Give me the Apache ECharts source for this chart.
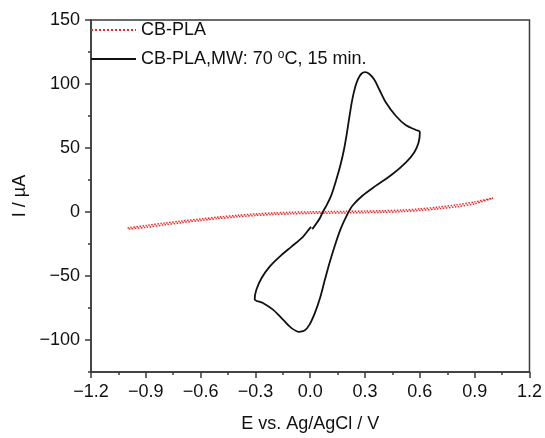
<!DOCTYPE html>
<html>
<head>
<meta charset="utf-8">
<script src="https://cdn.jsdelivr.net/npm/echarts@6/dist/echarts.min.js"></script>
<style>
  html, body { margin: 0; padding: 0; background: #fff; }
  #cv { width: 545px; height: 438px; }
</style>
</head>
<body>
<div id="cv"></div>
<script>
// CB-PLA (red dotted loop)
var cbplaE = [-1.0, -0.9, -0.8, -0.7, -0.6, -0.5, -0.4, -0.3, -0.2, -0.1, 0, 0.1, 0.2, 0.3, 0.4, 0.5, 0.6, 0.7, 0.8, 0.9, 1.0,
              0.9, 0.8, 0.7, 0.6, 0.5, 0.4, 0.3, 0.2, 0.1, 0, -0.1, -0.2, -0.3, -0.4, -0.5, -0.6, -0.7, -0.8, -0.9, -1.0];
var cbplaI = [-12.4, -10.6, -8.7, -7.0, -5.4, -3.9, -2.6, -1.5, -0.7, -0.2, 0.1, 0.3, 0.5, 0.7, 1.0, 1.5, 2.4, 3.8, 5.6, 7.9, 11.0,
              6.4, 4.1, 2.5, 1.2, 0.3, -0.2, -0.5, -0.7, -0.9, -1.1, -1.4, -1.9, -2.7, -3.8, -5.1, -6.6, -8.3, -10.1, -12.0, -13.4];

// CB-PLA after MW treatment (black loop)
var mwE = [0.011, 0.051, 0.069, 0.092, 0.115, 0.14, 0.165, 0.185, 0.201, 0.215, 0.229, 0.245, 0.262, 0.28, 0.3, 0.322, 0.351, 0.378,
           0.415, 0.469, 0.524, 0.578, 0.600, 0.593, 0.569, 0.524, 0.451, 0.360, 0.287, 0.232, 0.205, 0.167, 0.134, 0.105,
           0.080, 0.054, 0.025, -0.004, -0.031, -0.062, -0.104, -0.149, -0.204, -0.259, -0.304,
           -0.295, -0.267, -0.222, -0.167, -0.104, -0.040, -0.004, 0.005];
var mwI = [-13.4, -5.2, 0, 6, 13, 24, 36.5, 49, 62, 75, 87, 97, 104, 108, 109.3, 108, 103.4, 95.7,
           85.3, 75, 67.7, 64.1, 62.5, 54.3, 46.5, 38.8, 29.7, 20.6, 12.9, 5.1, -1.3, -13, -26.5, -40,
           -53, -67, -79, -88, -92.6, -93.6, -90.5, -84.1, -76.3, -71.1, -68.1,
           -60.8, -51.7, -42.7, -34.9, -27.2, -19.4, -13, -11.6];

var yMajor = [-100, -50, 0, 50, 100, 150];

function pairs(xs, ys) {
    var out = [];
    for (var i = 0; i < xs.length; i++) out.push([xs[i], ys[i]]);
    return out;
}
function minus(s) { return String(s).replace('-', '\u2212'); }

var font = 'Liberation Sans, Arial, sans-serif';
var axisCol = '#3a3a3a';

var chart = echarts.init(document.getElementById('cv'));
chart.setOption({
    animation: false,
    grid: { left: 91, right: 14, top: 20, bottom: 64, show: true, borderColor: axisCol, borderWidth: 1.5 },
    legend: {
        orient: 'vertical',
        left: 90,
        top: 21,
        padding: 0,
        itemWidth: 45,
        itemHeight: 18,
        itemGap: 10,
        itemStyle: { opacity: 0 },
        textStyle: {
            fontSize: 18, color: '#111', fontFamily: font,
            rich: {
                n: { fontSize: 18, color: '#111', fontFamily: font },
                s: { fontSize: 12, color: '#111', fontFamily: font, padding: [0, 0, 8, 0] }
            }
        },
        formatter: function (name) {
            if (name === 'CB-PLA') return '{n|CB-PLA}';
            return '{n|CB-PLA,MW: 70 }{s|o}{n|C, 15 min.}';
        },
        data: ['CB-PLA', 'CB-PLA,MW']
    },
    xAxis: {
        type: 'value',
        min: -1.2, max: 1.2, interval: 0.3,
        name: 'E vs. Ag/AgCl / V',
        nameLocation: 'middle',
        nameGap: 43,
        nameTextStyle: { fontSize: 18, color: '#111', fontFamily: font },
        axisLine: { onZero: false, lineStyle: { color: axisCol, width: 1.5 } },
        axisTick: { length: 6, lineStyle: { color: axisCol, width: 1.5 } },
        minorTick: { show: true, splitNumber: 2, length: 3, lineStyle: { color: axisCol, width: 1.5 } },
        splitLine: { show: false },
        axisLabel: {
            margin: 11, fontSize: 18, color: '#111', fontFamily: font,
            formatter: function (v) { return minus(v.toFixed(1)); }
        }
    },
    yAxis: [{
        type: 'value',
        min: -125, max: 150, interval: 25,
        name: 'I / \u00b5A',
        nameLocation: 'middle',
        nameGap: 62,
        nameTextStyle: { fontSize: 18, color: '#111', fontFamily: font },
        axisLine: { onZero: false, lineStyle: { color: axisCol, width: 1.5 } },
        axisTick: { length: 3, lineStyle: { color: axisCol, width: 1.5 } },
        splitLine: { show: false },
        axisLabel: { show: false }
    }, {
        type: 'value',
        position: 'left',
        min: -125, max: 150, interval: 25,
        axisLine: { show: false, onZero: false },
        axisTick: { length: 6, customValues: yMajor, lineStyle: { color: axisCol, width: 1.5 } },
        splitLine: { show: false },
        axisLabel: {
            margin: 11, fontSize: 18, color: '#111', fontFamily: font,
            customValues: yMajor,
            formatter: function (v) { return minus(v); }
        }
    }],
    series: [{
        name: 'CB-PLA',
        type: 'line',
        symbol: 'none',
        smooth: 0.3,
        lineStyle: { color: '#ff2020', width: 1.5, type: 'dotted' },
        itemStyle: { color: '#ff2020' },
        data: pairs(cbplaE, cbplaI)
    }, {
        name: 'CB-PLA,MW',
        type: 'line',
        symbol: 'none',
        smooth: 0.3,
        lineStyle: { color: '#111', width: 1.8 },
        itemStyle: { color: '#111' },
        data: pairs(mwE, mwI)
    }]
});
</script>
</body>
</html>
